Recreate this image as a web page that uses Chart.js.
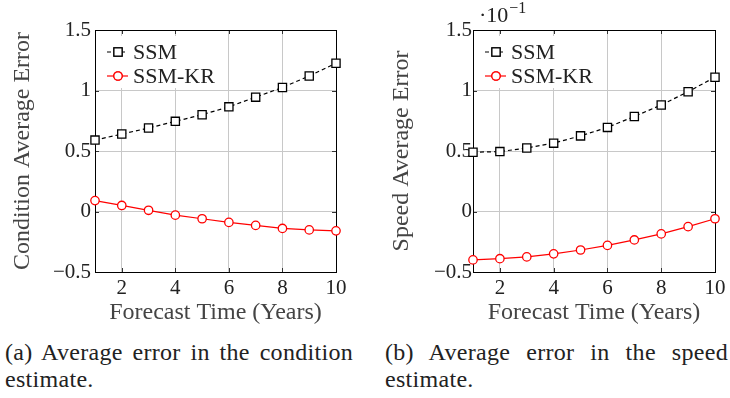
<!DOCTYPE html>
<html>
<head>
<meta charset="utf-8">
<script src="https://cdn.jsdelivr.net/npm/chart.js@4"></script>
<style>
  body { margin: 0; background: #fff; width: 730px; height: 398px; position: relative; overflow: hidden; }
  .plot { position: absolute; top: 0; height: 330px; }
  .caption {
    position: absolute; top: 339px;
    font-family: 'Liberation Serif', 'Times New Roman', serif; font-size: 24px; line-height: 27px; color: #222;
    letter-spacing: 0.3px;
    text-align: justify; text-align-last: left;
  }
</style>
</head>
<body>
<div class="plot" style="left:0;width:365px"><canvas id="conditionChart"></canvas></div>
<div class="plot" style="left:365px;width:365px"><canvas id="speedChart"></canvas></div>
<div class="caption" style="left:5px;width:348px">(a) Average error in the condition estimate.</div>
<div class="caption" style="left:385px;width:343px">(b) Average error in the speed estimate.</div>
<script>
const years = [1, 2, 3, 4, 5, 6, 7, 8, 9, 10];
const xTicks = [2, 4, 6, 8, 10];
const seriesNames = ["SSM", "SSM-KR"];

// condition error
const conditionSSM = [0.59, 0.64, 0.69, 0.745, 0.80, 0.865, 0.945, 1.025, 1.12, 1.225];
const conditionKR = [0.09, 0.05, 0.01, -0.03, -0.06, -0.09, -0.115, -0.14, -0.152, -0.16];

// speed error (x 10^-1)
const speedSSM = [0.49, 0.495, 0.525, 0.565, 0.625, 0.695, 0.785, 0.88, 0.99, 1.11];
const speedKR = [-0.40, -0.39, -0.375, -0.35, -0.318, -0.28, -0.235, -0.185, -0.125, -0.06];

const serif = "'Liberation Serif', 'Times New Roman', serif";
Chart.defaults.font.family = serif;

const toPoints = (vals) => years.map((x, i) => ({ x: x, y: vals[i] }));

// black frame + inward tick marks, drawn under the markers
const framePlugin = {
  id: "frame",
  beforeDatasetsDraw(chart) {
    const { ctx, chartArea: a, scales } = chart;
    ctx.save();
    ctx.strokeStyle = "#333";
    ctx.lineWidth = 1;
    ctx.beginPath();
    xTicks.forEach((t) => {
      const px = Math.round(scales.x.getPixelForValue(t)) + 0.5;
      ctx.moveTo(px, a.bottom); ctx.lineTo(px, a.bottom - 4);
      ctx.moveTo(px, a.top); ctx.lineTo(px, a.top + 4);
    });
    scales.y.ticks.forEach((t) => {
      const py = Math.round(scales.y.getPixelForValue(t.value)) + 0.5;
      ctx.moveTo(a.left, py); ctx.lineTo(a.left + 4, py);
      ctx.moveTo(a.right, py); ctx.lineTo(a.right - 4, py);
    });
    ctx.stroke();
    ctx.strokeStyle = "#000";
    ctx.strokeRect(Math.round(a.left) + 0.5, Math.round(a.top) + 0.5,
      Math.round(a.right - a.left), Math.round(a.bottom - a.top));
    ctx.restore();
  },
};

// legend inside the plot, top left
const innerLegend = {
  id: "innerLegend",
  beforeDatasetsDraw(chart) {
    const { ctx, chartArea: a } = chart;
    ctx.save();
    ctx.font = "22px " + serif;
    const w = Math.max(...chart.data.datasets.map((d) => ctx.measureText(d.label).width));
    ctx.fillStyle = "#fff";
    ctx.fillRect(a.left + 6, a.top + 6, w + 40, 52);
    chart.data.datasets.forEach((ds, i) => {
      const y = a.top + 22 + i * 24;
      const x0 = a.left + 12;
      ctx.strokeStyle = ds.borderColor;
      ctx.lineWidth = ds.borderWidth;
      ctx.setLineDash(ds.borderDash || []);
      ctx.beginPath();
      ctx.moveTo(x0, y); ctx.lineTo(x0 + 21, y);
      ctx.stroke();
      ctx.setLineDash([]);
      Chart.helpers.drawPoint(ctx, {
        pointStyle: ds.pointStyle, radius: ds.pointRadius,
        borderWidth: ds.pointBorderWidth, rotation: 0,
      }, x0 + 11, y);
      ctx.fillStyle = ds.pointBackgroundColor;
      ctx.fill();
      ctx.strokeStyle = ds.borderColor;
      ctx.lineWidth = ds.pointBorderWidth;
      ctx.stroke();
      ctx.fillStyle = "#222";
      ctx.textBaseline = "middle";
      ctx.fillText(ds.label, x0 + 26, y + 1);
    });
    ctx.restore();
  },
};

// "·10^-1" multiplier above the y axis
const multiplierPlugin = {
  id: "multiplier",
  afterDraw(chart, args, opts) {
    if (!opts.text) return;
    const { ctx, chartArea: a } = chart;
    ctx.save();
    ctx.fillStyle = "#222";
    ctx.textBaseline = "alphabetic";
    ctx.font = "22px " + serif;
    ctx.fillText("·" + opts.text, a.left + 6, a.top - 8);
    const w = ctx.measureText("·" + opts.text).width;
    ctx.font = "16px " + serif;
    ctx.fillText(opts.exp, a.left + 7 + w, a.top - 17);
    ctx.restore();
  },
};

function makeChart(id, ssm, kr, opts) {
  const ctx = document.getElementById(id).getContext("2d");
  return new Chart(ctx, {
    type: "line",
    data: {
      datasets: [
        {
          label: seriesNames[0],
          data: toPoints(ssm),
          borderColor: "#000",
          borderWidth: 1.2,
          borderDash: [4, 3],
          pointStyle: "rect",
          pointRadius: 5.8,
          pointBorderWidth: 1.3,
          pointBackgroundColor: "#fff",
          pointBorderColor: "#000",
          clip: false,
        },
        {
          label: seriesNames[1],
          data: toPoints(kr),
          borderColor: "#ff0000",
          borderWidth: 1.2,
          pointStyle: "circle",
          pointRadius: 4.2,
          pointBorderWidth: 1.3,
          pointBackgroundColor: "#fff",
          pointBorderColor: "#ff0000",
          clip: false,
        },
      ],
    },
    options: {
      responsive: true,
      maintainAspectRatio: false,
      animation: false,
      layout: { padding: { left: 0, right: opts.right, top: 30, bottom: 0 } },
      plugins: {
        legend: { display: false },
        tooltip: { enabled: false },
        multiplier: { text: opts.multText, exp: opts.multExp },
      },
      scales: {
        x: {
          type: "linear",
          min: 1,
          max: 10,
          afterBuildTicks: (axis) => {
            axis.ticks = xTicks.map((v) => ({ value: v }));
          },
          afterFit: (axis) => { axis.height = 58; },
          grid: { color: "#c8c8c8", drawTicks: false },
          border: { display: false },
          ticks: { color: "#222", font: { family: serif, size: 21 }, padding: 4, maxRotation: 0 },
          title: {
            display: true,
            text: "Forecast Time (Years)",
            color: "#444",
            font: { family: serif, size: 24 },
            padding: { top: 0, bottom: 3 },
          },
        },
        y: {
          min: -0.5,
          max: 1.5,
          afterFit: (axis) => { axis.width = opts.yWidth; },
          grid: { color: "#c8c8c8", drawTicks: false },
          border: { display: false },
          ticks: {
            stepSize: 0.5,
            color: "#222",
            font: { family: serif, size: 21 },
            padding: opts.tickPad,
            callback: (v) => (v < 0 ? "\u2212" + Math.abs(v) : String(v)),
          },
          title: {
            display: true,
            text: opts.yTitle,
            color: "#444",
            font: { family: serif, size: 24 },
            padding: { top: opts.titlePad, bottom: 0 },
          },
        },
      },
    },
    plugins: [framePlugin, innerLegend, multiplierPlugin],
  });
}

makeChart("conditionChart", conditionSSM, conditionKR, {
  yTitle: "Condition Average Error", yWidth: 95, right: 29, tickPad: 4, titlePad: 8,
});
makeChart("speedChart", speedSSM, speedKR, {
  yTitle: "Speed Average Error", yWidth: 108, right: 15, tickPad: 1, titlePad: 22,
  multText: "10", multExp: "\u22121",
});
</script>
</body>
</html>
